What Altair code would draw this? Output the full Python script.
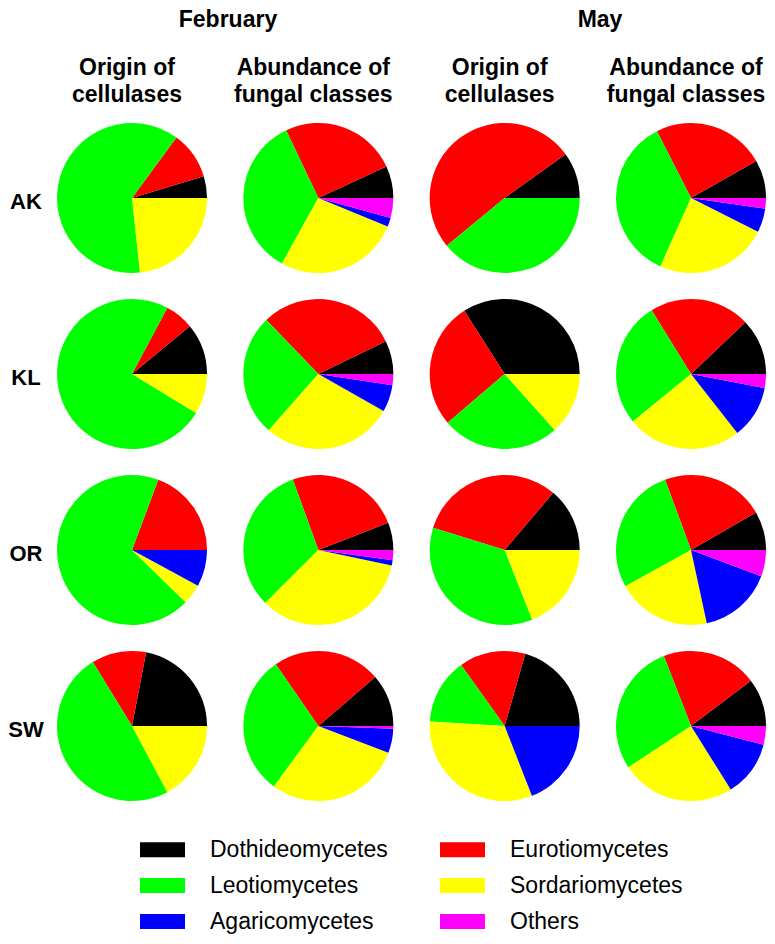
import math
import altair as alt
import pandas as pd

categories = ["Dothideomycetes", "Eurotiomycetes", "Leotiomycetes",
              "Sordariomycetes", "Agaricomycetes", "Others"]
colors = ["#000000", "#ff0000", "#00ff00", "#ffff00", "#0000ff", "#ff00ff"]
# legend reading order (legend fills column by column)
legend_order = ["Dothideomycetes", "Leotiomycetes", "Agaricomycetes",
                "Eurotiomycetes", "Sordariomycetes", "Others"]
legend_colors = ["#000000", "#00ff00", "#0000ff", "#ff0000", "#ffff00", "#ff00ff"]
sites = ["AK", "KL", "OR", "SW"]
months = ["February", "May"]
kinds = ["Origin of\ncellulases", "Abundance of\nfungal classes"]

# values (%) in category order: Doth, Euro, Leot, Sord, Agar, Others
feb_origin_ak = [4.7, 10.2, 61.8, 23.3, 0, 0]
feb_origin_kl = [11.0, 6.2, 74.2, 8.7, 0, 0]
feb_origin_or = [0, 19.3, 68.4, 4.4, 7.9, 0]
feb_origin_sw = [22.0, 11.8, 49.1, 17.2, 0, 0]

feb_abund_ak = [6.9, 25.2, 34.9, 26.9, 1.9, 4.3]
feb_abund_kl = [7.2, 30.0, 26.3, 28.3, 5.8, 2.4]
feb_abund_or = [5.9, 24.6, 31.9, 34.2, 1.1, 2.2]
feb_abund_sw = [11.3, 23.3, 30.3, 29.3, 5.2, 0.6]

may_origin_ak = [9.9, 51.0, 39.0, 0, 0, 0]
may_origin_kl = [34.1, 27.2, 25.4, 13.4, 0, 0]
may_origin_or = [13.8, 31.4, 35.8, 19.0, 0, 0]
may_origin_sw = [20.6, 14.3, 14.2, 31.9, 19.1, 0]

may_abund_ak = [8.2, 24.3, 35.8, 24.3, 5.1, 2.3]
may_abund_kl = [12.1, 21.7, 27.1, 24.7, 11.4, 3.0]
may_abund_or = [8.3, 22.3, 27.4, 20.3, 15.9, 5.7]
may_abund_sw = [10.3, 20.6, 28.4, 24.6, 12.1, 4.0]

panels = ["Feb-origin", "Feb-abund", "May-origin", "May-abund"]
panel_kind = [kinds[0], kinds[1], kinds[0], kinds[1]]
series = {
    "Feb-origin": [feb_origin_ak, feb_origin_kl, feb_origin_or, feb_origin_sw],
    "Feb-abund": [feb_abund_ak, feb_abund_kl, feb_abund_or, feb_abund_sw],
    "May-origin": [may_origin_ak, may_origin_kl, may_origin_or, may_origin_sw],
    "May-abund": [may_abund_ak, may_abund_kl, may_abund_or, may_abund_sw],
}

rows = []
for p in panels:
    for s, vals in zip(sites, series[p]):
        for i, (c, v) in enumerate(zip(categories, vals)):
            if v > 0:
                rows.append({"panel": p, "site": s, "category": c, "idx": i, "value": v})
df = pd.DataFrame(rows)

FONT = "Liberation Sans"
x_scale = alt.Scale(type="point", domain=panels, range=[124, 683], padding=0)
y_scale = alt.Scale(type="point", domain=sites, range=[190, 718], padding=0)

pies = alt.Chart(df).transform_stack(
    stack="value", groupby=["panel", "site"], as_=["v0", "v1"], offset="normalize",
    sort=[alt.SortField("idx", order="descending")]
).mark_arc(radius=75).encode(
    x=alt.X("panel:N", scale=x_scale, axis=None),
    y=alt.Y("site:N", scale=y_scale, axis=None),
    theta=alt.Theta("v0:Q", stack=False,
                    scale=alt.Scale(domain=[0, 1], range=[math.pi / 2, 2.5 * math.pi], nice=False)),
    theta2="v1:Q",
    color=alt.Color(
        "category:N",
        scale=alt.Scale(domain=legend_order, range=legend_colors),
        legend=alt.Legend(
            title=None, orient="none", legendX=132, legendY=819, columns=2,
            symbolType="M-1,-0.333L1,-0.333L1,0.333L-1,0.333Z", symbolSize=2025,
            symbolStrokeWidth=0, labelFont=FONT, labelFontSize=23, labelColor="black",
            labelOffset=25, columnPadding=52, rowPadding=1, labelLimit=400,
        ),
    ),
)

month_df = pd.DataFrame({"month": months})
month_text = alt.Chart(month_df).mark_text(
    font=FONT, fontWeight="bold", fontSize=23, baseline="alphabetic", align="center"
).encode(
    x=alt.X("month:N", scale=alt.Scale(type="point", domain=months, range=[220, 592], padding=0), axis=None),
    y=alt.value(19),
    text="month:N",
)

kind_df = pd.DataFrame({"panel": panels, "label": panel_kind})
kind_text = alt.Chart(kind_df).mark_text(
    font=FONT, fontWeight="bold", fontSize=23, baseline="alphabetic", align="center",
    lineBreak="\n", lineHeight=27
).encode(
    x=alt.X("panel:N", scale=alt.Scale(type="point", domain=panels, range=[119, 678], padding=0), axis=None),
    y=alt.value(67),
    text="label:N",
)

site_df = pd.DataFrame({"site": sites})
site_text = alt.Chart(site_df).mark_text(
    font=FONT, fontWeight="bold", fontSize=22, baseline="middle", align="center", dy=4
).encode(
    x=alt.value(18),
    y=alt.Y("site:N", scale=y_scale, axis=None),
    text="site:N",
)

chart = alt.layer(pies, month_text, kind_text, site_text).resolve_scale(
    x="independent"
).properties(
    width=759, height=928, autosize="none", padding=0
).configure_view(stroke=None)

chart.save("out.html", embed_options={"renderer": "svg", "actions": False})
